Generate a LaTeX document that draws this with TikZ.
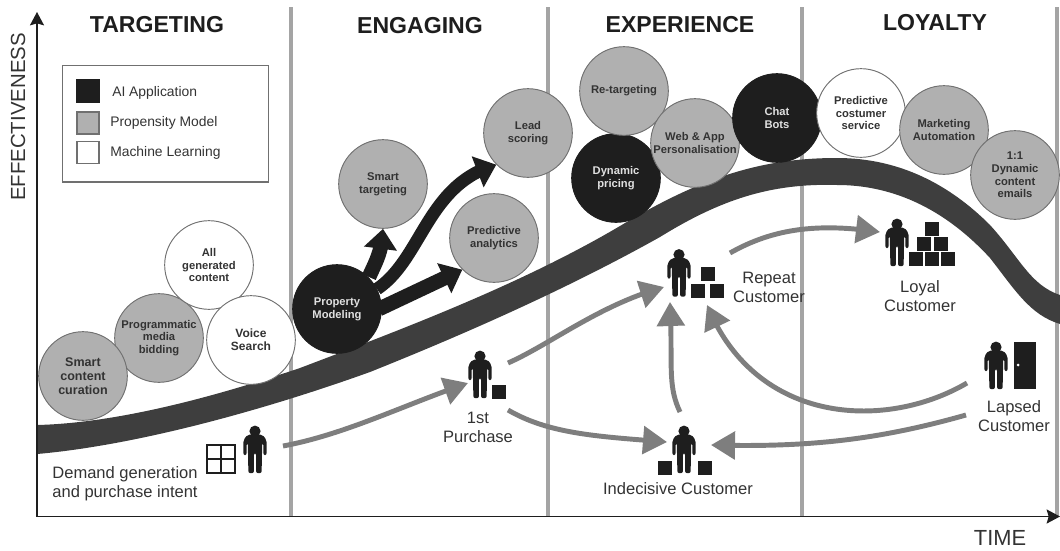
\documentclass[tikz,border=0pt]{standalone}
\usepackage{fontspec}
\setmainfont{Liberation Sans}
\usetikzlibrary{arrows.meta,bending,calc}
\definecolor{ink}{HTML}{1E1E1E}
\definecolor{band}{HTML}{3E3E3E}
\definecolor{midg}{HTML}{B0B0B0}
\definecolor{edgeg}{HTML}{707070}
\definecolor{flow}{HTML}{7E7E7E}
\definecolor{rule}{HTML}{A4A4A4}
\definecolor{txt}{HTML}{333333}
\tikzset{
 bub/.style={circle,draw=edgeg,line width=.7pt,minimum size=66.5pt,inner sep=0pt,align=center,font=\fontsize{8.4}{9.5}\selectfont\bfseries,text=txt},
 bubblack/.style={bub,fill=ink,draw=ink,text=white!88!black},
 bubgray/.style={bub,fill=midg},
 bubwhite/.style={bub,fill=white},
 heading/.style={font=\fontsize{17.3}{20}\selectfont\bfseries,text=ink,inner sep=0pt},
 legtext/.style={font=\fontsize{10.4}{12}\selectfont,text=txt,inner sep=0pt,anchor=west},
 label/.style={font=\fontsize{12.4}{14.2}\selectfont,text=txt,inner sep=0pt,align=center},
 swatch/.style={draw=edgeg,line width=.8pt,minimum size=16.5pt,inner sep=0pt},
 figbox/.style={minimum width=18pt,minimum height=35.5pt,inner sep=0pt,outer sep=0pt},
 flowline/.style={draw=flow,line width=3.7pt,-{Triangle[length=18pt,width=20.5pt,flex=1]}},
 aiflow/.style={draw=ink,-{Triangle[length=15pt,width=24pt,flex=1]}},
 gridrule/.style={draw=rule,line width=2.4pt},
 axisline/.style={draw=ink,line width=1.4pt},
 person/.pic={
  \fill[ink] (0,-42) circle (5.6);
  \fill[ink,rounded corners=1.5] (-11.6,-18) -- (-11.6,-33) -- (-7.5,-38.5) -- (7.5,-38.5) -- (11.6,-33) -- (11.6,-18) -- (8.4,-18) -- (8.4,-30) -- (7.2,-30) -- (6.6,0) -- (1.1,0) -- (1.1,-20) -- (-1.1,-20) -- (-1.1,0) -- (-6.6,0) -- (-7.2,-30) -- (-8.4,-30) -- (-8.4,-18) -- cycle;
 },
 box/.pic={\fill[ink] (-7,-7) rectangle (7,7);},
}
\begin{document}
\begin{tikzpicture}[x=.75pt,y=-.75pt]
\useasboundingbox (0,0) rectangle (1060,550);
% column rules
\coordinate (r1t) at (291,7); \coordinate (r1b) at (291,516);
\coordinate (r2t) at (548,7); \coordinate (r2b) at (548,516);
\coordinate (r3t) at (802,7); \coordinate (r3b) at (802,516);
\coordinate (r4t) at (1057,7); \coordinate (r4b) at (1057,516);
\draw[gridrule] (r1t) -- (r1b);
\draw[gridrule] (r2t) -- (r2b);
\draw[gridrule] (r3t) -- (r3b);
\draw[gridrule] (r4t) -- (r4b);
% band
\fill[band] (37,425) .. controls (120,423) and (220,395) .. (300,368) .. controls (400,330) and (520,285) .. (620,226) .. controls (700,178) and (760,158) .. (837,158) .. controls (900,158) and (950,185) .. (990,225) .. controls (1020,258) and (1030,285) .. (1060,295)
 -- (1060,324) .. controls (1030,315) and (1015,290) .. (990,258) .. controls (955,220) and (905,185) .. (837,185) .. controls (770,183) and (720,200) .. (660,237) .. controls (560,293) and (450,340) .. (370,372) .. controls (270,408) and (140,445) .. (37,454) -- cycle;
% axes
\coordinate (org) at (37,516.5); \coordinate (ytop) at (37,12); \coordinate (xend) at (1060,516.5);
\draw[axisline,-{Stealth[length=10pt,width=10.5pt,inset=1.5pt]}] (org) -- (ytop);
\draw[axisline,-{Stealth[length=10pt,width=10.5pt,inset=1.5pt]}] (org) -- (xend);
% headings
\node[heading] (h1) at (157,25) {TARGETING};
\node[heading] (h2) at (420,26) {ENGAGING};
\node[heading] (h3) at (680,25) {EXPERIENCE};
\node[heading] (h4) at (935,23) {LOYALTY};
\node[rotate=90,font=\fontsize{15.3}{18}\selectfont,text=txt,inner sep=0pt] (yl) at (18,117) {EFFECTIVENESS};
\node[font=\fontsize{16.4}{18}\selectfont,text=txt,inner sep=0pt] (xl) at (1000,538) {TIME};
% legend
\node[draw=edgeg,line width=.8pt,minimum width=155pt,minimum height=87.7pt,inner sep=0pt] (legend) at (165.5,123.5) {};
\node[swatch,fill=ink,draw=ink] (s1) at (88,91) {};
\node[swatch,fill=midg] (s2) at (88,123) {};
\node[swatch,fill=white] (s3) at (88,152.5) {};
\node[legtext] (t1) at (112,93) {AI Application};
\node[legtext] (t2) at (110,123) {Propensity Model};
\node[legtext] (t3) at (110,153) {Machine Learning};
% black arrows
\node[bubgray] (st) at (383,184) {Smart\\targeting};
\node[bubgray] (ls) at (528,133) {Lead\\scoring};
\node[bubgray] (pa) at (494,238) {Predictive\\analytics};
\coordinate (pmc) at (337,309);
\draw[aiflow,line width=11pt] ([shift={(32,-32)}]pmc) .. controls ([shift={(38,-46)}]pmc) and ([shift={(45,-56)}]pmc) .. (st.south);
\draw[aiflow,line width=9.5pt] ([shift={(40,-20)}]pmc) .. controls ([shift={(85,-50)}]pmc) and ([shift={(90,-125)}]pmc) .. (ls.south west);
\draw[aiflow,line width=11pt] ([shift={(42,0)}]pmc) -- (pa.south west);
% circles
\node[bubgray] (pb) at (159,338) {Programmatic\\media\\bidding};
\node[bubgray,font=\fontsize{9.4}{10.6}\selectfont\bfseries] (sc) at (83,376) {Smart\\content\\curation};
\node[bubwhite] (ag) at (209,265) {All\\generated\\content};
\node[bubwhite,font=\fontsize{9}{9.5}\selectfont\bfseries] (vs) at (251,340) {Voice\\Search};
\node[bubblack] (pm) at (pmc) {Property\\Modeling};
\node[bubblack] (dp) at (616,178) {Dynamic\\pricing};
\node[bubgray] (rt) at (624,91) {Re-targeting};
\node[bubgray] (wa) at (695,143) {Web \& App\\Personalisation};
\node[bubblack] (cb) at (777,118) {Chat\\Bots};
\node[bubwhite] (pc) at (861,113) {Predictive\\costumer\\service};
\node[bubgray] (ma) at (944,130) {Marketing\\Automation};
\node[bubgray] (dc) at (1015,175) {1:1\\Dynamic\\content\\emails};
% people
\node[figbox] (demand) at (255,449.5) {}; \pic at (demand.south) {person};
\node[figbox] (first) at (480,374.5) {}; \pic at (first.south) {person};
\node[figbox] (repeat) at (679,273) {}; \pic at (repeat.south) {person};
\node[figbox] (indec) at (684,449.5) {}; \pic at (indec.south) {person};
\node[figbox] (loyal) at (897,242.5) {}; \pic at (loyal.south) {person};
\node[figbox] (lapsed) at (996,365.5) {}; \pic at (lapsed.south) {person};
% window
\node[draw=ink,line width=1pt,minimum size=21pt,inner sep=0pt] (win) at (221,459) {};
\draw[ink,line width=1pt] (win.north) -- (win.south);
\draw[ink,line width=1pt] (win.west) -- (win.east);
% boxes
\pic at (499,392) {box};
\pic at (707.5,273.5) {box};
\pic at (698,290.5) {box};
\pic at (717,290.5) {box};
\pic at (665,468) {box};
\pic at (705,468) {box};
\pic at (932,229) {box};
\pic at (924,244) {box};
\pic at (941,244) {box};
\pic at (916,259) {box};
\pic at (932,259) {box};
\pic at (948,259) {box};
% door
\node[fill=ink,minimum width=16.5pt,minimum height=35.5pt,inner sep=0pt] (door) at (1025,365.5) {};
\fill[white] (1018,365) circle (1.5);
% labels
\node[label,align=left] (ld) at (125,484) {Demand generation\\and purchase intent};
\node[label] (lf) at (478,427.5) {1st\\Purchase};
\node[label] (li) at (678,489) {Indecisive Customer};
\node[label] (lr) at (769,287.5) {Repeat\\Customer};
\node[label] (ll) at (920,296) {Loyal\\Customer};
\node[label] (la) at (1014,416) {Lapsed\\Customer};
% flows
\draw[flowline] ([shift={(28,-3.5)}]demand.center) .. controls ([shift={(90,-15)}]demand.center) and ([shift={(150,-45)}]demand.center) .. ([shift={(-12,8.5)}]first.center);
\draw[flowline] ([shift={(28,-11.5)}]first.center) .. controls ([shift={(70,-30)}]first.center) and ([shift={(120,-70)}]first.center) .. ([shift={(-15,14)}]repeat.center);
\draw[flowline] ([shift={(28,35.5)}]first.center) .. controls ([shift={(70,60)}]first.center) and ([shift={(120,62)}]first.center) .. ([shift={(-17,-7.5)}]indec.center);
\draw[flowline] ([shift={(-4,-37.5)}]indec.center) .. controls ([shift={(-17,-65)}]indec.center) and ([shift={(-11,-85)}]indec.center) .. ([shift={(-9,29)}]repeat.center);
\draw[flowline] ([shift={(51,-20)}]repeat.center) .. controls ([shift={(95,-45)}]repeat.center) and ([shift={(140,-50)}]repeat.center) .. ([shift={(-17,-10.5)}]loyal.center);
\draw[flowline] ([shift={(-29,17.5)}]lapsed.center) .. controls ([shift={(-110,65)}]lapsed.center) and ([shift={(-240,60)}]lapsed.center) .. ([shift={(28,32)}]repeat.center);
\draw[flowline] ([shift={(-30,49.5)}]lapsed.center) .. controls ([shift={(-120,75)}]lapsed.center) and ([shift={(-190,82)}]lapsed.center) .. ([shift={(27,-4.5)}]indec.center);
\end{tikzpicture}
\end{document}
